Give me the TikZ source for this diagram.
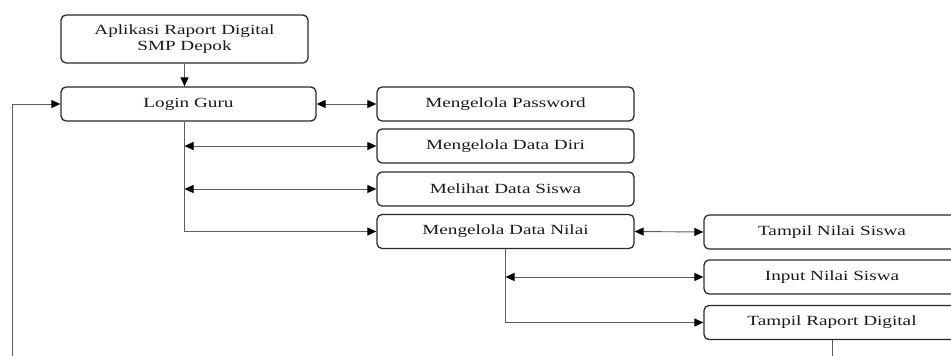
\documentclass[tikz,border=0pt]{standalone}
\usepackage{fontspec}
\newfontfamily\boxfont{Liberation Serif}[FakeStretch=1.37]
\usetikzlibrary{arrows.meta}
\definecolor{boxline}{HTML}{2A2A2A}
\definecolor{linkline}{HTML}{5E5E5E}
\tikzset{
  menubox/.style={draw=boxline, line width=1.3pt, rounded corners=5pt, minimum height=34pt,
    inner sep=2pt, font=\boxfont\fontsize{14}{16}\selectfont, text=black!90, align=center},
  tip/.style={Triangle[length=9pt,width=8pt,color=black]},
  link/.style={draw=linkline, line width=0.9pt, -{Triangle[length=9pt,width=8pt,color=black]}},
  dlink/.style={draw=linkline, line width=0.9pt, {Triangle[length=9pt,width=8pt,color=black]}-{Triangle[length=9pt,width=8pt,color=black]}}
}
\begin{document}
\begin{tikzpicture}[x=1pt, y=-1pt]
            \useasboundingbox (0,0) rectangle (951,356);
            % kolom kiri
            \node[menubox, minimum width=247pt, minimum height=48pt] (app) at (184.5,39) {Aplikasi Raport Digital\\SMP Depok};
            \node[menubox, minimum width=255pt] (login) at (188.5,104) {Login Guru};
            % kolom tengah
            \node[menubox, minimum width=257pt] (pass) at (505.5,104) {Mengelola Password};
            \node[menubox, minimum width=257pt] (diri) at (505.5,146) {Mengelola Data Diri};
            \node[menubox, minimum width=257pt] (lihat) at (505.5,189) {Melihat Data Siswa};
            \node[menubox, minimum width=257pt] (nilai) at (505.5,231.5) {Mengelola Data Nilai};
            % kolom kanan
            \node[menubox, minimum width=256pt] (tampil) at (832,232) {Tampil Nilai Siswa};
            \node[menubox, minimum width=256pt] (input) at (832,277) {Input Nilai Siswa};
            \node[menubox, minimum width=256pt] (raport) at (832,322.5) {Tampil Raport Digital};
            % titik bantu
            \coordinate (t1) at (app.south |- login.south);
            \coordinate (t2) at (nilai.south);
            \coordinate (back) at (12,356);
            \coordinate (bot) at (raport.south |- back);
            % garis
            \draw[link] (app.south) -- (app.south |- login.north);
            \draw[dlink] (login.east) -- (pass.west);
            \draw[dlink] (t1 |- diri.west) -- (diri.west);
            \draw[dlink] (t1 |- lihat.west) -- (lihat.west);
            \draw[link] (t1) |- (nilai.west);
            \draw[dlink] (nilai.east) -- (tampil.west);
            \draw[dlink] (t2 |- input.west) -- (input.west);
            \draw[link] (t2) |- (raport.west);
            \draw[link] (back) |- (login.west);
            \draw[draw=linkline, line width=0.9pt] (raport.south) -- (bot);
\end{tikzpicture}
\end{document}
